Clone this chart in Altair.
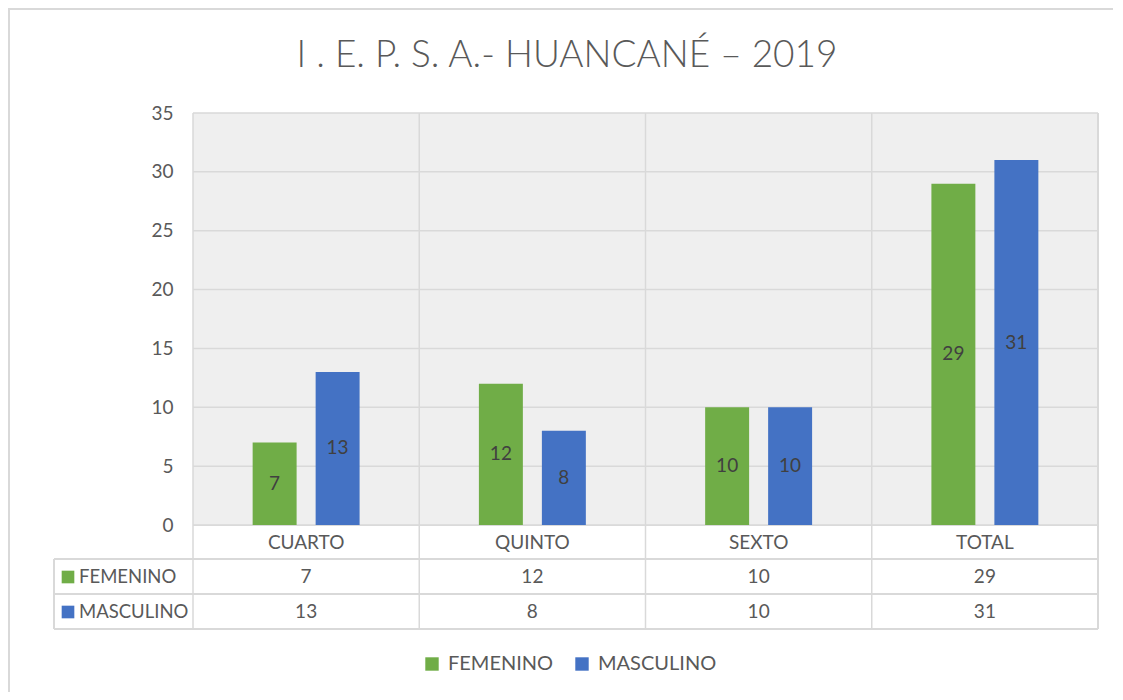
import altair as alt
import pandas as pd

categories = ["CUARTO", "QUINTO", "SEXTO", "TOTAL"]
series = ["FEMENINO", "MASCULINO"]
femenino = [7, 12, 10, 29]
masculino = [13, 8, 10, 31]
colors = ["#70AD47", "#4472C4"]
y_ticks = [0, 5, 10, 15, 20, 25, 30, 35]
title_text = "I . E. P. S. A.- HUANCANÉ – 2019"

rows = []
for s, vals in zip(series, [femenino, masculino]):
    for c, v in zip(categories, vals):
        rows.append({"cat": c, "series": s, "value": v})
df = pd.DataFrame(rows)
cat_df = pd.DataFrame({"cat": categories})
ser_df = pd.DataFrame({"series": series})
tick_df = pd.DataFrame({"tick": y_ticks})
title_df = pd.DataFrame({"title": [title_text]})

FONT = "Lato"
TXT = "#595959"
GRID = "#d9d9d9"
W, H = 905, 412

x_axis = alt.Axis(title=None, grid=False, ticks=False, domain=False, bandPosition=0.5,
                  labelFontSize=19, labelColor=TXT, labelFont=FONT,
                  labelPadding=8, labelAngle=0)
x_scale = alt.Scale(domain=categories, paddingInner=0, paddingOuter=0)
y_axis = alt.Axis(title=None, values=y_ticks, grid=False, ticks=False, domain=False,
                  labelFontSize=19, labelColor=TXT, labelFont=FONT, labelPadding=20)
y_scale = alt.Scale(domain=[0, 35], nice=False)
xo_enc = alt.XOffset("series:N", sort=series,
                     scale=alt.Scale(domain=series, paddingInner=0.302, paddingOuter=0.947))
color_enc = alt.Color("series:N", sort=series,
                      scale=alt.Scale(domain=series, range=colors),
                      legend=alt.Legend(title=None, orient="none", legendX=229, legendY=541,
                                        direction="horizontal", symbolType="square",
                                        symbolSize=180, symbolStrokeWidth=0,
                                        labelFontSize=20, labelColor=TXT, labelFont=FONT,
                                        columnPadding=18, labelOffset=6))

base = alt.Chart(df)

bg = alt.Chart(cat_df).mark_rect(color="#efefef").encode(
    x=alt.value(0), x2=alt.value(W), y=alt.value(0), y2=alt.value(H))

# gridlines drawn above the background
hgrid = alt.Chart(tick_df).mark_rule(color=GRID, strokeWidth=1.5).encode(
    y=alt.Y("tick:Q", scale=y_scale, axis=y_axis), x=alt.value(0), x2=alt.value(W))
vgrid = alt.Chart(cat_df).mark_rule(color=GRID, strokeWidth=1.5).encode(
    x=alt.X("cat:N", sort=categories, scale=x_scale, axis=x_axis, bandPosition=0),
    y=alt.value(0), y2=alt.value(516))
vright = alt.Chart(cat_df).mark_rule(color=GRID, strokeWidth=1.5).encode(
    x=alt.value(W), y=alt.value(0), y2=alt.value(516))

bars = base.mark_bar().encode(
    x=alt.X("cat:N", sort=categories, scale=x_scale, axis=x_axis),
    xOffset=xo_enc,
    y=alt.Y("value:Q", scale=y_scale, axis=y_axis),
    color=color_enc,
)

labels = base.transform_calculate(mid="datum.value / 2").mark_text(
    fontSize=19, font=FONT, color="#404040", baseline="middle"
).encode(x=alt.X("cat:N", sort=categories), xOffset=alt.XOffset("series:N", sort=series),
         y=alt.Y("mid:Q"), text="value:Q")

# data table lines
hlines = [
    alt.Chart(cat_df).mark_rule(color=GRID, strokeWidth=1.5).encode(
        x=alt.value(-139), x2=alt.value(W), y=alt.value(yy))
    for yy in (446, 481, 516)
]
vleft = alt.Chart(cat_df).mark_rule(color=GRID, strokeWidth=1.5).encode(
    x=alt.value(-139), y=alt.value(446), y2=alt.value(516))

row_y = {"FEMENINO": 464, "MASCULINO": 499}
table_layers = []
for s in series:
    table_layers.append(
        base.transform_filter(alt.datum.series == s).mark_text(
            fontSize=19, font=FONT, color=TXT, baseline="middle"
        ).encode(x=alt.X("cat:N", sort=categories), y=alt.value(row_y[s]), text="value:Q"))
    table_layers.append(
        alt.Chart(ser_df).transform_filter(alt.datum.series == s).mark_square(
            size=160, opacity=1, strokeWidth=0
        ).encode(x=alt.value(-125), y=alt.value(row_y[s]),
                 color=alt.Color("series:N", sort=series, legend=None)))
    table_layers.append(
        alt.Chart(ser_df).transform_filter(alt.datum.series == s).mark_text(
            fontSize=18.5, font=FONT, color=TXT, baseline="middle", align="left"
        ).encode(x=alt.value(-114), y=alt.value(row_y[s]), text="series:N"))

title = alt.Chart(title_df).mark_text(
    fontSize=37, font=FONT, fontWeight=300, color=TXT, align="center", baseline="alphabetic"
).encode(x=alt.value(374), y=alt.value(-46), text="title:N")

# outer chart border (top and left visible)
border_top = alt.Chart(cat_df).mark_rule(color=GRID, strokeWidth=1.5).encode(
    x=alt.value(-185), x2=alt.value(W + 15), y=alt.value(-104))
border_left = alt.Chart(cat_df).mark_rule(color=GRID, strokeWidth=1.5).encode(
    x=alt.value(-184), y=alt.value(-105), y2=alt.value(H + 167))

chart = alt.layer(
    bg, hgrid, vgrid, vright, bars, labels, *hlines, vleft, *table_layers, title,
    border_top, border_left
).properties(
    width=W, height=H,
    autosize=alt.AutoSizeParams(type="none"),
    padding={"left": 185, "top": 105, "right": 15, "bottom": 167},
).configure_view(
    stroke=None
).configure(background="white")

chart.save("out.html", embed_options={"renderer": "svg", "actions": False})
